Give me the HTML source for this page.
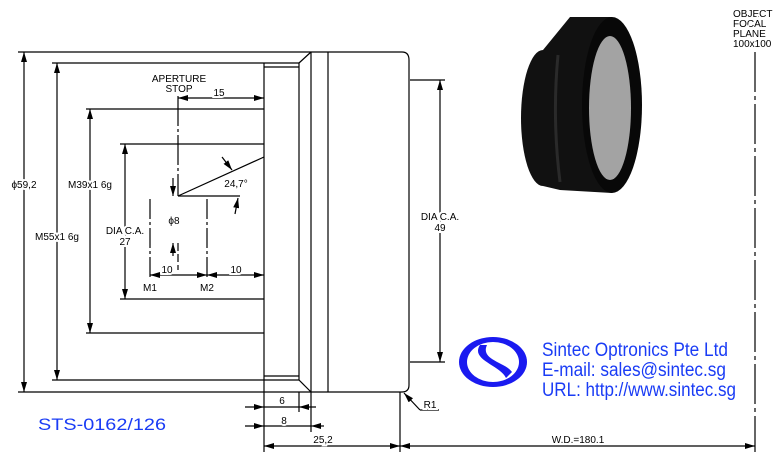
<!DOCTYPE html>
<html><head><meta charset="utf-8"><style>body{margin:0;background:#fff}svg{display:block}</style></head><body>
<svg width="783" height="461" viewBox="0 0 783 461" xmlns="http://www.w3.org/2000/svg" font-family="Liberation Sans, sans-serif">
<defs>
<marker id="a" viewBox="0 0 10 6" refX="10" refY="3" markerWidth="10" markerHeight="6" orient="auto-start-reverse" markerUnits="userSpaceOnUse"><path d="M0,0L10,3L0,6z" fill="#000"/></marker>
</defs>
<g stroke="#000" stroke-width="1.2" fill="none">
<line x1="18" y1="52" x2="311" y2="52"/><line x1="18" y1="392" x2="402" y2="392"/>
<line x1="311" y1="52" x2="402" y2="52"/>
<path d="M402,52 Q409,52 409,60 L409,385 Q409,392 402,392"/>
<line x1="264" y1="63" x2="264" y2="392"/>
<line x1="299" y1="63" x2="299" y2="380"/>
<line x1="311" y1="52" x2="311" y2="392"/>
<line x1="328" y1="52" x2="328" y2="392"/>
<line x1="299" y1="63" x2="311" y2="52"/><line x1="299" y1="380" x2="311" y2="392"/>
<line x1="264" y1="67" x2="299" y2="67"/><line x1="264" y1="376" x2="299" y2="376"/>
<line x1="52" y1="63" x2="299" y2="63"/><line x1="52" y1="380" x2="299" y2="380"/>
<line x1="86" y1="109" x2="264" y2="109"/><line x1="86" y1="333" x2="264" y2="333"/>
<line x1="120" y1="144" x2="264" y2="144"/><line x1="120" y1="299" x2="264" y2="299"/>
<line x1="24" y1="52" x2="24" y2="392" marker-start="url(#a)" marker-end="url(#a)"/>
<line x1="57" y1="63" x2="57" y2="380" marker-start="url(#a)" marker-end="url(#a)"/>
<line x1="90" y1="109" x2="90" y2="333" marker-start="url(#a)" marker-end="url(#a)"/>
<line x1="125" y1="144" x2="125" y2="299" marker-start="url(#a)" marker-end="url(#a)"/>
<line x1="178" y1="98" x2="264" y2="98" marker-start="url(#a)" marker-end="url(#a)"/>
<line x1="178" y1="96" x2="178" y2="196" stroke-dasharray="30,3,3,3"/>
<line x1="178" y1="196" x2="264" y2="157"/>
<line x1="178" y1="196" x2="240" y2="196"/>
<line x1="173" y1="178" x2="173" y2="196" marker-end="url(#a)"/>
<line x1="178" y1="243" x2="178" y2="270" stroke-dasharray="8,3"/>
<line x1="173" y1="243" x2="173" y2="256" marker-start="url(#a)"/>
<path d="M222,157 L232,170" marker-end="url(#a)"/>
<path d="M235,214 L238,198" marker-end="url(#a)"/>
<line x1="150" y1="199" x2="150" y2="280" stroke-dasharray="20,3,3,3"/>
<line x1="207" y1="199" x2="207" y2="280" stroke-dasharray="20,3,3,3"/>
<line x1="150" y1="275" x2="207" y2="275" marker-start="url(#a)" marker-end="url(#a)"/>
<line x1="207" y1="275" x2="264" y2="275" marker-start="url(#a)" marker-end="url(#a)"/>
<line x1="410" y1="80" x2="445" y2="80"/><line x1="410" y1="362" x2="445" y2="362"/>
<line x1="440" y1="80" x2="440" y2="362" marker-start="url(#a)" marker-end="url(#a)"/>
<line x1="264" y1="392" x2="264" y2="452"/>
<line x1="299" y1="392" x2="299" y2="412"/>
<line x1="311" y1="392" x2="311" y2="432"/>
<line x1="400" y1="392" x2="400" y2="452"/>
<line x1="245" y1="407" x2="264" y2="407" marker-end="url(#a)"/><line x1="316" y1="407" x2="299" y2="407" marker-end="url(#a)"/><line x1="264" y1="407" x2="299" y2="407"/>
<line x1="245" y1="426" x2="264" y2="426" marker-end="url(#a)"/><line x1="324" y1="426" x2="311" y2="426" marker-end="url(#a)"/><line x1="264" y1="426" x2="311" y2="426"/>
<line x1="264" y1="446" x2="400" y2="446" marker-start="url(#a)" marker-end="url(#a)"/>
<line x1="400" y1="446" x2="755" y2="446" marker-start="url(#a)" marker-end="url(#a)"/>
<line x1="755" y1="52" x2="755" y2="452" stroke-dasharray="40,4,4,4"/>
<path d="M420,410 L439,410 M420,410 L404,393" marker-end="url(#a)"/>
</g>
<g font-size="10" fill="#000" text-anchor="middle" stroke="#fff" stroke-width="4" paint-order="stroke">
<text x="179" y="82">APERTURE</text><text x="179" y="92">STOP</text>
<text x="219" y="96">15</text>
<text x="24" y="188">ϕ59,2</text>
<text x="90" y="188">M39x1 6g</text>
<text x="57" y="240">M55x1 6g</text>
<text x="125" y="234">DIA C.A.</text><text x="125" y="245">27</text>
<text x="236" y="187">24,7°</text>
<text x="174" y="224">ϕ8</text>
<text x="167" y="273">10</text><text x="236" y="273">10</text>
<text x="150" y="291">M1</text><text x="207" y="291">M2</text>
<text x="440" y="220">DIA C.A.</text><text x="440" y="231">49</text>
<text x="282" y="404">6</text><text x="284" y="424">8</text>
<text x="323" y="443">25,2</text>
<text x="578" y="443">W.D.=180.1</text>
<text x="430" y="408">R1</text>
<text x="733" y="17" text-anchor="start">OBJECT</text>
<text x="733" y="27" text-anchor="start">FOCAL</text>
<text x="733" y="37" text-anchor="start">PLANE</text>
<text x="733" y="47" text-anchor="start">100x100</text>
</g>
<g>
<ellipse cx="543" cy="118" rx="22" ry="68" fill="#111"/>
<path d="M543,50 L570,17 L612,17 L612,193 L560,190 L543,186 Z" fill="#111"/>
<ellipse cx="612" cy="105" rx="30" ry="88" fill="#080808"/>
<ellipse cx="610" cy="108" rx="21" ry="72" fill="#a3a3a3"/>
<path d="M558,55 Q552,118 560,182" stroke="#2a2a2a" stroke-width="3" fill="none"/>
</g>
<ellipse cx="493" cy="362" rx="34" ry="25" fill="#1a1af0"/>
<ellipse cx="493" cy="362" rx="26" ry="20" fill="#fff"/>
<path d="M480,345 C470,360 500,365 506,378 L512,372 C505,362 480,360 487,345z" fill="#1a1af0"/>
<g fill="#1a3cf5" font-size="19">
<text x="542" y="356" textLength="186" lengthAdjust="spacingAndGlyphs">Sintec Optronics Pte Ltd</text>
<text x="542" y="376" textLength="184" lengthAdjust="spacingAndGlyphs">E-mail: sales@sintec.sg</text>
<text x="542" y="396" textLength="194" lengthAdjust="spacingAndGlyphs">URL: http://www.sintec.sg</text>
<text x="38" y="430" font-size="17" textLength="128" lengthAdjust="spacingAndGlyphs">STS-0162/126</text>
</g>
</svg>
</body></html>
